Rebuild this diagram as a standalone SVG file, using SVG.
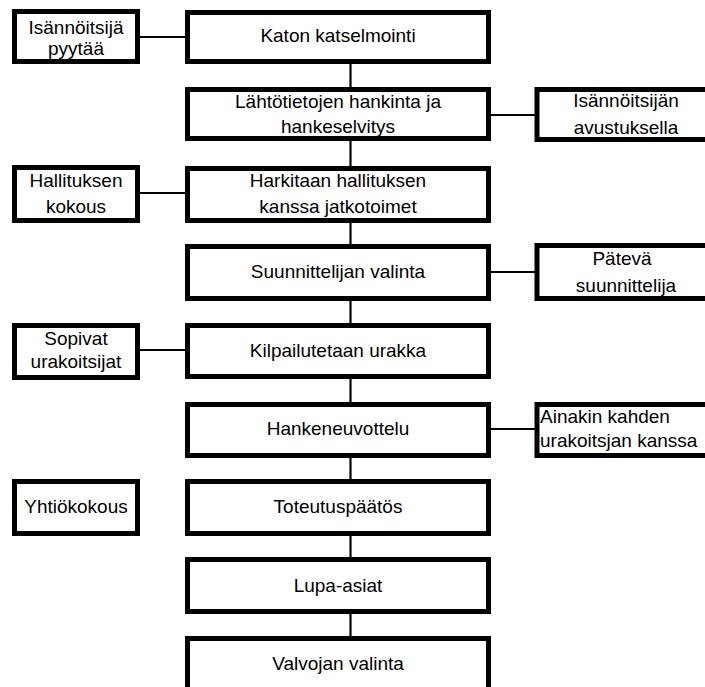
<svg xmlns="http://www.w3.org/2000/svg" width="705" height="687" viewBox="0 0 705 687">
<style>
.box{fill:#fff;stroke:#000;stroke-width:5}
.ln{stroke:#000;stroke-width:2.2;fill:none}
text{font-family:"Liberation Sans",Arial,sans-serif;font-size:19px;fill:#000}
.c{text-anchor:middle}
</style>
<rect width="705" height="687" fill="#fff"/>
<g id="connectors">
<line class="ln" x1="350.5" y1="64" x2="350.5" y2="87"/>
<line class="ln" x1="350.5" y1="141" x2="350.5" y2="166"/>
<line class="ln" x1="350.5" y1="223" x2="350.5" y2="244"/>
<line class="ln" x1="350.5" y1="301" x2="350.5" y2="323"/>
<line class="ln" x1="350.5" y1="379" x2="350.5" y2="402"/>
<line class="ln" x1="350.5" y1="458" x2="350.5" y2="479"/>
<line class="ln" x1="350.5" y1="536" x2="350.5" y2="557"/>
<line class="ln" x1="350.5" y1="614" x2="350.5" y2="636"/>
<line class="ln" x1="140" y1="37" x2="185" y2="37"/>
<line class="ln" x1="140" y1="193" x2="185" y2="193"/>
<line class="ln" x1="140" y1="350" x2="185" y2="350"/>
<line class="ln" x1="491" y1="115" x2="535" y2="115"/>
<line class="ln" x1="491" y1="272" x2="535" y2="272"/>
<line class="ln" x1="491" y1="429" x2="535" y2="429"/>
</g>
<g id="n1"><rect class="box" x="187.5" y="12.5" width="301" height="49"/><text class="c" x="338" y="42">Katon katselmointi</text></g>
<g id="n2"><rect class="box" x="187.5" y="89.5" width="301" height="49"/><text class="c" x="338" y="108">Lähtötietojen hankinta ja</text><text class="c" x="338" y="133">hankeselvitys</text></g>
<g id="n3"><rect class="box" x="187.5" y="168.5" width="301" height="52"/><text class="c" x="338" y="187">Harkitaan hallituksen</text><text class="c" x="338" y="213">kanssa jatkotoimet</text></g>
<g id="n4"><rect class="box" x="187.5" y="246.5" width="301" height="52"/><text class="c" x="338" y="278">Suunnittelijan valinta</text></g>
<g id="n5"><rect class="box" x="187.5" y="325.5" width="301" height="51"/><text class="c" x="338" y="356.5">Kilpailutetaan urakka</text></g>
<g id="n6"><rect class="box" x="187.5" y="404.5" width="301" height="51"/><text class="c" x="338" y="435">Hankeneuvottelu</text></g>
<g id="n7"><rect class="box" x="187.5" y="481.5" width="301" height="52"/><text class="c" x="338" y="513">Toteutuspäätös</text></g>
<g id="n8"><rect class="box" x="187.5" y="559.5" width="301" height="52"/><text class="c" x="338" y="591.5">Lupa-asiat</text></g>
<g id="n9"><rect class="box" x="187.5" y="638.5" width="301" height="60"/><text class="c" x="338" y="670">Valvojan valinta</text></g>
<g id="l1"><rect class="box" x="14.5" y="11.5" width="123" height="50"/><text class="c" x="76" y="34">Isännöitsijä</text><text class="c" x="76" y="55">pyytää</text></g>
<g id="l2"><rect class="box" x="14.5" y="167.5" width="123" height="53"/><text class="c" x="76" y="187">Hallituksen</text><text class="c" x="76" y="212.5">kokous</text></g>
<g id="l3"><rect class="box" x="14.5" y="325.5" width="123" height="52"/><text class="c" x="76" y="345">Sopivat</text><text class="c" x="76" y="368">urakoitsijat</text></g>
<g id="l4"><rect class="box" x="14.5" y="481.5" width="123" height="52"/><text class="c" x="76" y="513">Yhtiökokous</text></g>
<g id="r1"><rect class="box" x="537" y="89.5" width="200" height="50"/><text class="c" x="626" y="107">Isännöitsijän</text><text class="c" x="626" y="134">avustuksella</text></g>
<g id="r2"><rect class="box" x="537" y="245.5" width="200" height="53"/><text class="c" x="622" y="265">Pätevä</text><text class="c" x="626" y="291.5">suunnittelija</text></g>
<g id="r3"><rect class="box" x="537" y="404.5" width="200" height="51"/><text x="540" y="422.5">Ainakin kahden</text><text x="540" y="446.5">urakoitsjan kanssa</text></g>
</svg>
